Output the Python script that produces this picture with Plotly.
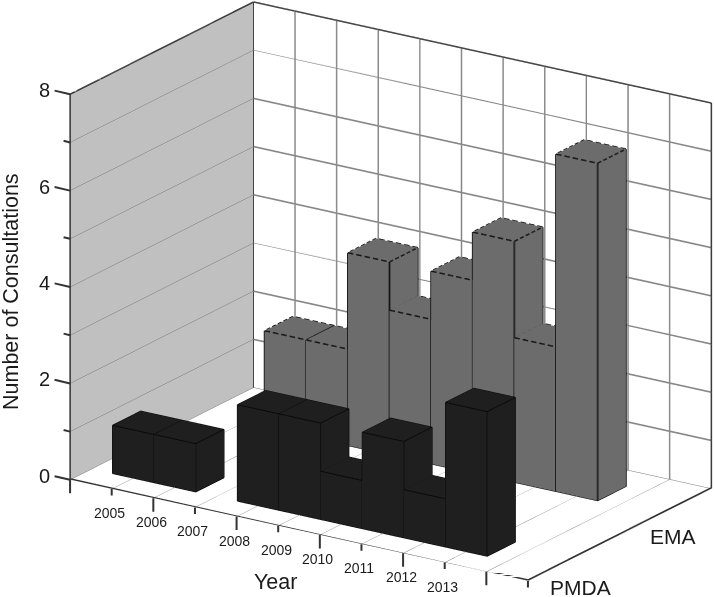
import plotly.graph_objects as go

YEARS = [2005, 2006, 2007, 2008, 2009, 2010, 2011, 2012, 2013]
PMDA_COUNTS = [1, 1, 0, 2, 2, 1, 2, 1, 3]
EMA_COUNTS = [0, 2, 2, 4, 3, 4, 5, 3, 7]

X_TICKS = [2004, 2005, 2006, 2007, 2008, 2009, 2010, 2011, 2012, 2013, 2014, 2015]
X_LABELS = ["", "2005", "2006", "2007", "2008", "2009", "2010", "2011", "2012", "2013", "", ""]
Z_TICKS = [0, 1, 2, 3, 4, 5, 6, 7, 8]
Z_LABELS = ["0", "", "2", "", "4", "", "6", "", "8"]

FONT = "Liberation Sans, Arial, sans-serif"
TEXT = "#1a1a1a"
AXIS = "#333333"
BAR_W = 0.5
BAR_D = 0.128
PMDA_Y = 1
EMA_Y = 2
X_MIN, X_MAX = X_TICKS[0], X_TICKS[-1]
Y_MIN, Y_MAX = 0.676, 2.337
Z_MIN, Z_MAX = Z_TICKS[0], Z_TICKS[-1]
FLOOR_LIFT = 0.02  # keeps the floor edges from fighting with the floor plane


def bar_mesh(years, counts, y0, color):
    xs, ys, zs, i, j, k = [], [], [], [], [], []
    faces = [(0, 1, 2), (0, 2, 3), (4, 5, 6), (4, 6, 7), (0, 1, 5), (0, 5, 4),
             (1, 2, 6), (1, 6, 5), (2, 3, 7), (2, 7, 6), (3, 0, 4), (3, 4, 7)]
    for yr, c in zip(years, counts):
        if c == 0:
            continue
        n = len(xs)
        for z in (0, c):
            xs += [yr - BAR_W, yr + BAR_W, yr + BAR_W, yr - BAR_W]
            ys += [y0 - BAR_D, y0 - BAR_D, y0 + BAR_D, y0 + BAR_D]
            zs += [z] * 4
        i += [n + f[0] for f in faces]
        j += [n + f[1] for f in faces]
        k += [n + f[2] for f in faces]
    return go.Mesh3d(x=xs, y=ys, z=zs, i=i, j=j, k=k, color=color, flatshading=True,
                     lighting={"ambient": 1, "diffuse": 0, "specular": 0, "fresnel": 0},
                     hoverinfo="skip", showscale=False)


def bar_edges(years, counts, y0):
    # uprights and the base of each bar
    xs, ys, zs = [], [], []
    for yr, c in zip(years, counts):
        if c == 0:
            continue
        l, r, f, b = yr - BAR_W, yr + BAR_W, y0 - BAR_D, y0 + BAR_D
        corners = [(l, f), (r, f), (r, b), (l, b), (l, f)]
        for px, py in corners:
            xs.append(px); ys.append(py); zs.append(0)
        xs.append(None); ys.append(None); zs.append(None)
        for px, py in corners[:4]:
            xs += [px, px, None]
            ys += [py, py, None]
            zs += [0, c, None]
    return xs, ys, zs


def bar_rims(years, counts, y0, dashes=1):
    # rim of the lid; dashes > 1 chops every side into separate strokes
    xs, ys, zs = [], [], []
    for yr, c in zip(years, counts):
        if c == 0:
            continue
        l, r, f, b = yr - BAR_W, yr + BAR_W, y0 - BAR_D, y0 + BAR_D
        corners = [(l, f), (r, f), (r, b), (l, b), (l, f)]
        for (x0, y_0), (x1, y_1) in zip(corners, corners[1:]):
            for n in range(dashes):
                t0 = n / dashes
                t1 = (n + (0.65 if dashes > 1 else 1)) / dashes
                xs += [x0 + (x1 - x0) * t0, x0 + (x1 - x0) * t1, None]
                ys += [y_0 + (y_1 - y_0) * t0, y_0 + (y_1 - y_0) * t1, None]
                zs += [c, c, None]
    return xs, ys, zs


def back_wall_grid():
    # the built-in 3D gridlines stay 1px, the back wall needs heavier ones
    xs, ys, zs = [], [], []
    for val in X_TICKS[1:-1]:
        xs += [val, val, None]
        ys += [Y_MAX, Y_MAX, None]
        zs += [Z_MIN, Z_MAX, None]
    for val in Z_TICKS[1:-1]:
        xs += [X_MIN, X_MAX, None]
        ys += [Y_MAX, Y_MAX, None]
        zs += [val, val, None]
    return xs, ys, zs


def box_frame():
    floor = Z_MIN + FLOOR_LIFT
    segments = [
        ((X_MIN, Y_MIN, Z_MIN), (X_MIN, Y_MIN, Z_MAX)),
        ((X_MIN, Y_MIN, Z_MAX), (X_MIN, Y_MAX, Z_MAX)),
        ((X_MIN, Y_MAX, Z_MIN), (X_MIN, Y_MAX, Z_MAX)),
        ((X_MIN, Y_MAX, Z_MAX), (X_MAX, Y_MAX, Z_MAX)),
        ((X_MAX, Y_MAX, Z_MIN), (X_MAX, Y_MAX, Z_MAX)),
        ((X_MIN, Y_MIN, floor), (X_MAX, Y_MIN, floor)),
        ((X_MAX, Y_MIN, floor), (X_MAX, Y_MAX, floor)),
    ]
    xs, ys, zs = [], [], []
    for a, b in segments:
        xs += [a[0], b[0], None]
        ys += [a[1], b[1], None]
        zs += [a[2], b[2], None]
    return xs, ys, zs


def edge_trace(edges, color, width):
    return go.Scatter3d(x=edges[0], y=edges[1], z=edges[2], mode="lines",
                        line={"color": color, "width": width},
                        hoverinfo="skip", showlegend=False)


def tick_mark(x, y, z, ax, ay):
    return dict(x=x, y=y, z=z, text="", showarrow=True, arrowhead=0, arrowwidth=2,
                arrowcolor=AXIS, ax=ax, ay=ay)


def tick_label(x, y, z, text, size, xshift, yshift):
    return dict(x=x, y=y, z=z, text=text, showarrow=False, xshift=xshift, yshift=yshift,
                font={"family": FONT, "size": size, "color": TEXT})


scene_notes = []
for val, lab in zip(X_TICKS, X_LABELS):
    scene_notes.append(tick_mark(val, Y_MIN, 0, 0, 15 if val % 2 == 0 else 8))
    if lab:
        scene_notes.append(tick_label(val, Y_MIN, 0, lab, 14, -2, -24))
for val, lab in zip(Z_TICKS, Z_LABELS):
    scene_notes.append(tick_mark(2004, Y_MIN, val, -17 if lab else -8, -4 if lab else -2))
    if lab:
        scene_notes.append(tick_label(2004, Y_MIN, val, lab, 20, -26, 4))

fig = go.Figure()
fig.add_trace(edge_trace(back_wall_grid(), "#8c8c8c", 3.5))
fig.add_trace(edge_trace(box_frame(), AXIS, 3))
fig.add_trace(bar_mesh(YEARS, EMA_COUNTS, EMA_Y, "#6c6c6c"))
fig.add_trace(bar_mesh(YEARS, PMDA_COUNTS, PMDA_Y, "#1f1f1f"))
fig.add_trace(edge_trace(bar_edges(YEARS, EMA_COUNTS, EMA_Y), "#141414", 3.5))
fig.add_trace(edge_trace(bar_rims(YEARS, EMA_COUNTS, EMA_Y, dashes=5), "#141414", 3))
fig.add_trace(edge_trace(bar_edges(YEARS, PMDA_COUNTS, PMDA_Y), "#080808", 2))
fig.add_trace(edge_trace(bar_rims(YEARS, PMDA_COUNTS, PMDA_Y), "#080808", 2))

AXIS_COMMON = {"showline": False, "showspikes": False, "zeroline": False, "title": {"text": ""},
               "gridcolor": "#777777", "gridwidth": 1, "showticklabels": False, "ticks": ""}

fig.update_layout(
    width=714,
    height=597,
    margin={"l": 0, "r": 0, "t": 0, "b": 0},
    paper_bgcolor="white",
    showlegend=False,
    scene={
        "domain": {"x": [0, 1], "y": [0, 1]},
        "aspectmode": "manual",
        "aspectratio": {"x": 1.84, "y": 1.113, "z": 1.37},
        "camera": {
            "projection": {"type": "orthographic"},
            "center": {"x": -0.0899, "y": -0.0691, "z": -0.0223},
            "eye": {"x": 0.9505, "y": -1.6395, "z": 0.6435},
            "up": {"x": 0, "y": 0, "z": 1},
        },
        "xaxis": dict(AXIS_COMMON, range=[X_MIN, X_MAX], tickvals=X_TICKS,
                      showbackground=True, backgroundcolor="#c0c0c0", showgrid=True),
        "yaxis": dict(AXIS_COMMON, range=[Y_MIN, Y_MAX], tickvals=[PMDA_Y, EMA_Y],
                      showbackground=True, backgroundcolor="white", showgrid=False),
        "zaxis": dict(AXIS_COMMON, range=[Z_MIN, Z_MAX], tickvals=Z_TICKS,
                      showbackground=True, backgroundcolor="white", showgrid=True),
        "annotations": scene_notes,
    },
    annotations=[
        dict(text="Number of Consultations", x=11 / 714, y=1 - 292 / 597, xref="paper", yref="paper",
             xanchor="center", yanchor="middle", textangle=-90, showarrow=False,
             font={"family": FONT, "size": 21.5, "color": TEXT}),
        dict(text="Year", x=275 / 714, y=1 - 582 / 597, xref="paper", yref="paper",
             xanchor="center", yanchor="middle", showarrow=False,
             font={"family": FONT, "size": 21.5, "color": TEXT}),
        dict(text="PMDA", x=580 / 714, y=1 - 587 / 597, xref="paper", yref="paper",
             xanchor="center", yanchor="middle", showarrow=False,
             font={"family": FONT, "size": 21, "color": TEXT}),
        dict(text="EMA", x=673 / 714, y=1 - 536 / 597, xref="paper", yref="paper",
             xanchor="center", yanchor="middle", showarrow=False,
             font={"family": FONT, "size": 21, "color": TEXT}),
    ],
)

# the page's default 8px body margin would push the plot off the window
fig.write_html("out.html", config={"displayModeBar": False},
               post_script="document.body.style.margin = '0';")
